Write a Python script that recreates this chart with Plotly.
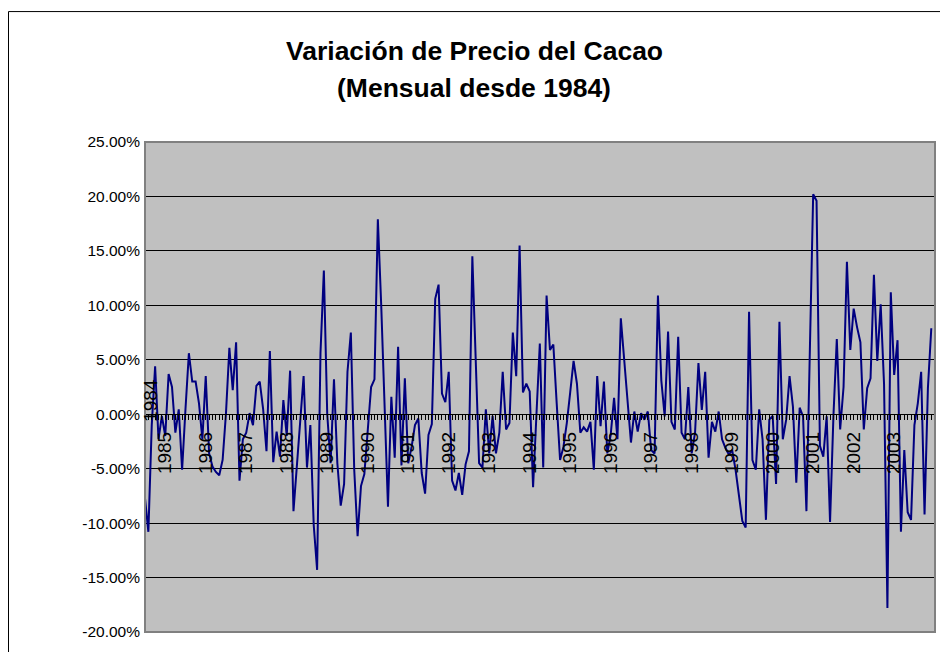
import plotly.graph_objects as go

# Monthly cocoa price variation (%), first month = Jul 1984
START_YEAR = 1984
START_MONTH = 7
VALUES_PCT = [
    -7.7, -10.8, -1.0, 4.4, -2.3, -0.15,
    -2.0, 3.7, 2.5, -1.7, 0.45, -5.1, 0.5, 5.6, 3.0, 3.0,
    1.0, -2.3, 3.5, -3.6, -4.8, -5.3, -5.6, -4.2, 0.1, 6.1,
    2.2, 6.6, -6.1, -2.3, -1.7, 0.1, -1.0, 2.6, 3.0, 0.5,
    -3.4, 5.8, -4.4, -1.6, -3.9, 1.3, -2.0, 4.0, -8.9, -4.8,
    -0.5, 3.5, -4.9, -1.0, -10.2, -14.3, 5.6, 13.2, 0.0, -4.5,
    3.2, -4.5, -8.4, -6.4, 3.9, 7.5, -5.1, -11.2, -6.6, -5.5,
    -1.5, 2.5, 3.2, 17.9, 10.0, 0.5, -8.5, 1.6, -4.0, 6.2,
    -4.7, 3.3, -4.5, -3.0, -1.0, -0.4, -5.4, -7.3, -1.9, -0.9,
    10.6, 11.9, 1.9, 1.1, 3.9, -6.1, -7.0, -5.4, -7.4, -4.6,
    -3.4, 14.5, 5.0, -4.5, -4.9, 0.45, -3.6, -0.15, -3.6, -1.7,
    3.9, -1.4, -0.8, 7.5, 3.5, 15.5, 2.0, 2.8, 2.1, -6.7,
    0.0, 6.5, -4.9, 10.9, 5.9, 6.4, 1.0, -4.2, -3.0, -0.8,
    2.0, 4.9, 2.8, -1.7, -1.2, -1.6, -0.7, -5.1, 3.5, -1.1,
    3.0, -3.6, -1.9, 1.5, -2.3, 8.8, 5.0, 1.0, -2.6, 0.25,
    -1.6, 0.1, -0.5, 0.25, -3.3, -3.6, 10.9, 3.1, -0.2, 7.6,
    -0.7, -1.4, 7.1, -1.7, -2.3, 2.5, -3.6, -1.7, 4.7, 0.4,
    3.9, -4.0, -0.7, -1.6, 0.25, -2.3, -3.1, -3.7, -3.3, -5.1,
    -7.5, -9.8, -10.4, 9.4, -4.2, -5.1, 0.45, -2.3, -9.7, -0.5,
    -0.15, -6.4, 8.5, -2.3, -0.5, 3.5, 0.7, -6.3, 0.6, -0.2,
    -8.9, 5.0, 20.2, 19.6, -2.9, -3.9, -0.2, -9.9, -0.2, 6.9,
    -1.4, 2.5, 14.0, 5.9, 9.7, 8.0, 6.6, -1.4, 2.4, 3.3,
    12.8, 4.9, 10.1, 2.8, -17.8, 11.2, 3.6, 6.8, -10.8, -3.3,
    -9.0, -9.7, -1.0, 1.0, 3.9, -9.2, 2.4, 7.9,
]

MONTHS = [
    f"{START_YEAR + (START_MONTH - 1 + i) // 12}-{(START_MONTH - 1 + i) % 12 + 1:02d}"
    for i in range(len(VALUES_PCT))
]

FIRST_LABEL = "1984"
X_TICK_LABELS = [str(y) for y in range(1985, 2004)]
Y_TICKS = [-20, -15, -10, -5, 0, 5, 10, 15, 20, 25]
Y_TICK_LABELS = ["-20.00%", "-15.00%", "-10.00%", "-5.00%", "0.00%",
                 "5.00%", "10.00%", "15.00%", "20.00%", "25.00%"]

TITLE_1 = "Variación de Precio del Cacao"
TITLE_2 = "(Mensual desde 1984)"

x_idx = list(range(len(MONTHS)))
tick_pos = [MONTHS.index(f"{lab}-01") for lab in X_TICK_LABELS]

# page body has an 8px margin; work in reference-pixel coordinates
OFF = 8
W, H = 948 - OFF, 652 - OFF
PL, PR, PT, PB = 145, 935, 142, 636   # plot area in reference pixels
L, T = PL - OFF, PT - OFF
R, B = W - (PR - OFF), H - (PB - OFF)
pw, ph = PR - PL, PB - PT

def px_x(x):
    return (x - PL) / pw

def px_y(y):
    return (PB - y) / ph

fig = go.Figure()
fig.add_trace(go.Scatter(
    x=x_idx, y=VALUES_PCT, mode="lines",
    line=dict(color="#000080", width=2),
    hoverinfo="skip", showlegend=False,
))

ymin, ymax = -20, 25
fig.update_layout(
    width=W, height=H,
    margin=dict(l=L, r=R, t=T, b=B, pad=0),
    paper_bgcolor="white",
    plot_bgcolor="#C0C0C0",
    font=dict(family="Liberation Sans, Arial, sans-serif", color="black"),
    xaxis=dict(
        range=[0, 234.1],
        anchor="free",
        position=(0 - ymin) / (ymax - ymin),
        showgrid=False, zeroline=False,
        showline=True, linecolor="black", linewidth=1,
        tickmode="array", tickvals=tick_pos, ticktext=X_TICK_LABELS,
        ticks="outside", ticklen=5, tickcolor="black", tickwidth=1,
        tickangle=-90, tickfont=dict(size=19, color="black"),
        ticklabelstandoff=4,
        minor=dict(tickmode="linear", tick0=0, dtick=1, ticks="outside",
                   ticklen=5, tickcolor="black", tickwidth=1, showgrid=False),
    ),
    yaxis=dict(
        range=[ymin, ymax],
        tickmode="array", tickvals=Y_TICKS, ticktext=Y_TICK_LABELS,
        showgrid=True, gridcolor="black", gridwidth=1,
        zeroline=False, showline=False, ticks="",
        tickfont=dict(size=15.5, color="black"),
        ticklabelstandoff=4,
    ),
    shapes=[
        dict(type="rect", xref="paper", yref="paper", x0=0, x1=1, y0=0, y1=1,
             line=dict(color="#808080", width=2), layer="above"),
        dict(type="rect", xref="paper", yref="paper",
             x0=px_x(OFF + 0.5), x1=px_x(941), y0=px_y(670), y1=px_y(10.5),
             line=dict(color="black", width=1), layer="above"),
    ],
    annotations=[
        dict(text=f"<b>{TITLE_1}</b>", xref="paper", yref="paper",
             x=px_x(474), y=px_y(50), xanchor="center", yanchor="middle",
             showarrow=False, font=dict(size=26.5, color="black")),
        dict(text=f"<b>{TITLE_2}</b>", xref="paper", yref="paper",
             x=px_x(474), y=px_y(88), xanchor="center", yanchor="middle",
             showarrow=False, font=dict(size=26.5, color="black")),
        dict(text=FIRST_LABEL, xref="paper", yref="paper",
             x=px_x(151), y=px_y(403), xanchor="center", yanchor="middle",
             textangle=-90, showarrow=False, font=dict(size=19, color="black")),
    ],
)

fig.write_html("out.html")
